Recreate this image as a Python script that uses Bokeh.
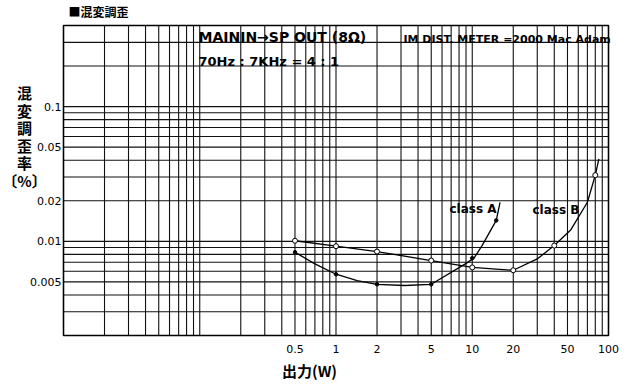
import numpy as np
from bokeh.plotting import figure
from bokeh.models import Label, Range1d
from bokeh.core.properties import value
from bokeh.embed import file_html
from bokeh.resources import INLINE

# ---- data ----
x_ticks = [0.5, 1, 2, 5, 10, 20, 50, 100]
x_tick_labels = ["0.5", "1", "2", "5", "10", "20", "50", "100"]
y_ticks = [0.005, 0.01, 0.02, 0.05, 0.1]
y_tick_labels = ["0.005", "0.01", "0.02", "0.05", "0.1"]

classA_pts_x = [0.5, 1, 2, 5, 10, 15]
classA_pts_y = [0.0083, 0.0057, 0.0048, 0.0048, 0.0075, 0.0143]
classA_curve_x = [0.5, 0.7, 1, 1.43, 2, 3.2, 5, 8.9, 10.3, 11.8, 15, 16]
classA_curve_y = [0.0083, 0.0068, 0.0057, 0.0051, 0.0048, 0.0047, 0.0048, 0.0068, 0.0075, 0.0093, 0.0143, 0.0195]

classB_pts_x = [0.5, 1, 2, 5, 10, 20, 40, 80]
classB_pts_y = [0.0101, 0.0092, 0.0084, 0.0072, 0.0064, 0.0061, 0.0093, 0.031]
classB_curve_x = [0.5, 1, 2, 5, 10, 20, 30, 40, 53, 70, 80, 85]
classB_curve_y = [0.0101, 0.0092, 0.0084, 0.0072, 0.0064, 0.0061, 0.0074, 0.0093, 0.0122, 0.0195, 0.031, 0.041]

y_label_chars = ["混", "変", "調", "歪", "率", "〔%〕"]

X_MIN, X_MAX = 0.01, 100
Y_MIN, Y_MAX = 0.002, 0.4

# chart box inside the canvas (pixels)
W, H = 628, 382
FL, FR, FT, FB = 63, 608, 25, 335
LX = np.log10(X_MAX / X_MIN) / (FR - FL)
LY = np.log10(Y_MAX / Y_MIN) / (FB - FT)


def X(px):
    return 10 ** (np.log10(X_MIN) + (px - FL) * LX)


def Y(py):
    return 10 ** (np.log10(Y_MAX) - (py - FT) * LY)


p = figure(width=W, height=H, x_axis_type="log", y_axis_type="log",
           x_axis_location=None, y_axis_location=None,
           x_range=Range1d(X(0), X(W)), y_range=Range1d(Y(H), Y(0)),
           min_border=0, output_backend="svg", toolbar_location=None)
p.outline_line_color = None
p.background_fill_color = "white"
p.border_fill_color = "white"
p.grid.visible = False

# log grid: every 1..9 x decade, bounded to the chart box
gx = [m * 10.0 ** e for e in range(-2, 2) for m in range(1, 10)] + [100.0]
gy = [m * 10.0 ** e for e in range(-3, 0) for m in range(1, 10) if Y_MIN <= m * 10.0 ** e <= Y_MAX]
GRID = dict(line_color="#111111", line_width=1.1)
p.segment(x0=gx, y0=[Y_MIN] * len(gx), x1=gx, y1=[Y_MAX] * len(gx), **GRID)
p.segment(x0=[X_MIN] * len(gy), y0=gy, x1=[X_MAX] * len(gy), y1=gy, **GRID)
p.quad(left=[X_MIN], right=[X_MAX], bottom=[Y_MIN], top=[Y_MAX],
       fill_color=None, line_color="black", line_width=1.5)

# tick labels
p.text(x=x_ticks, y=[Y_MIN] * len(x_ticks), text=x_tick_labels, y_offset=9,
       text_align="center", text_baseline="top", text_color="black",
       text_font=value("DejaVu Sans"), text_font_size="11px")
p.text(x=[X_MIN] * len(y_ticks), y=y_ticks, text=y_tick_labels, x_offset=-2,
       text_align="right", text_baseline="middle", text_color="black",
       text_font=value("DejaVu Sans"), text_font_size="11px")

# curves
p.line(classA_curve_x, classA_curve_y, line_color="black", line_width=1.3)
p.line(classB_curve_x, classB_curve_y, line_color="black", line_width=1.3)
p.scatter(classA_pts_x, classA_pts_y, marker="circle", size=3.5,
          fill_color="black", line_color="black")
p.scatter(classB_pts_x, classB_pts_y, marker="circle", size=5,
          fill_color="white", line_color="black", line_width=1)


def lab(px, py, text, size, font="DejaVu Sans", align="left", style="bold",
        baseline="middle", **kw):
    p.add_layout(Label(x=X(px), y=Y(py), text=text, text_font=font,
                       text_font_size=size, text_font_style=style,
                       text_align=align, text_baseline=baseline,
                       text_color="black", **kw))


lab(68, 11, "■混変調歪", "12px", font="Noto Sans CJK JP")
lab(198, 36, "MAININ→SP OUT (8Ω)", "14px")
lab(403, 39, "IM DIST. METER =2000 Mac Adam", "11px")
lab(198, 61, "70Hz : 7KHz = 4 : 1", "13px")
lab(449, 208, "class  A", "12px")
lab(532, 209, "class  B", "12px")
for i, ch in enumerate(y_label_chars):
    lab(24, 92 + i * 17.6, ch, "15px", font="Noto Sans CJK JP", align="center")
lab(309, 370, "出力(W)", "15px", font="Noto Sans CJK JP", align="center")

open("out.html", "w").write(file_html(p, INLINE))
